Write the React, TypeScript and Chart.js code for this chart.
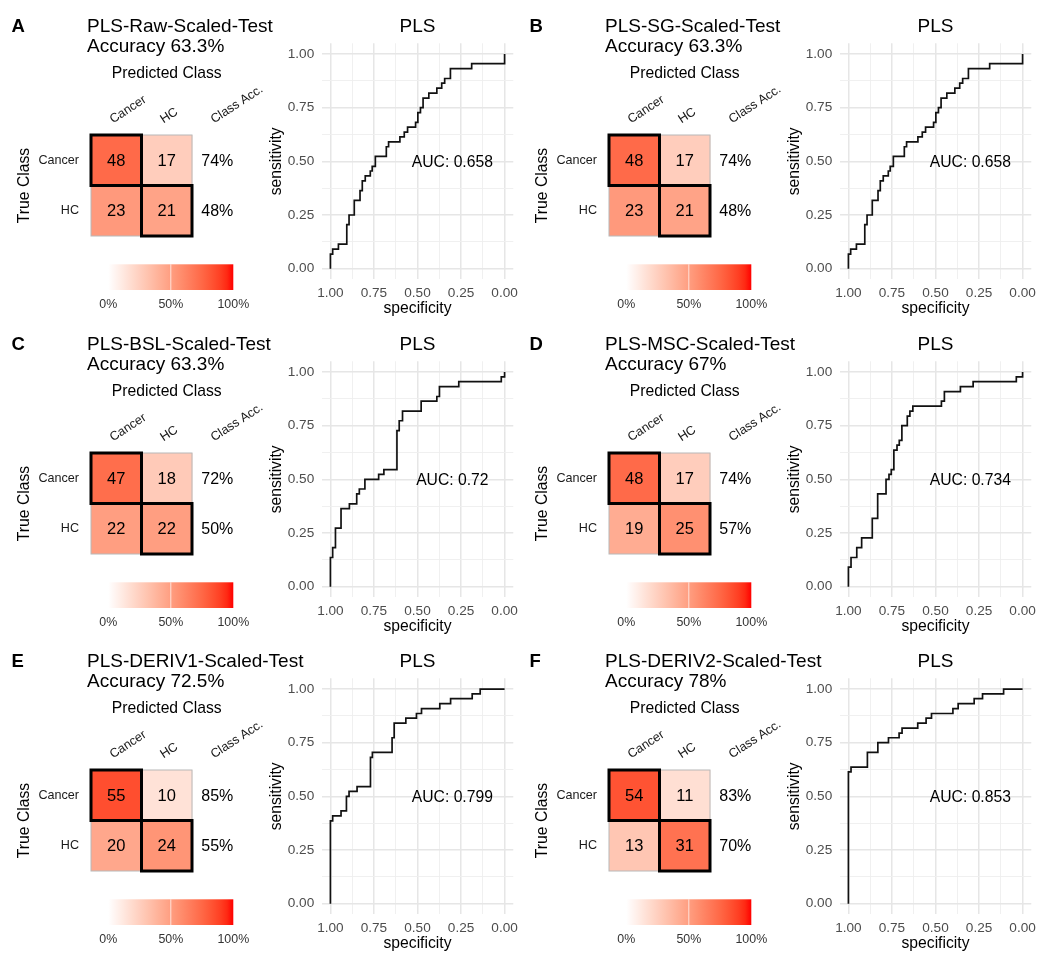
import React, { useEffect, useRef } from 'react';
import { Chart, registerables } from 'chart.js';

Chart.register(...registerables);

const FONT_FAMILY = "'Liberation Sans', Arial, Helvetica, sans-serif";
Chart.defaults.font.family = FONT_FAMILY;

// ===================== DATA =====================
const panelLetters = ['A', 'B', 'C', 'D', 'E', 'F'];
const panelTitles = [
  'PLS-Raw-Scaled-Test',
  'PLS-SG-Scaled-Test',
  'PLS-BSL-Scaled-Test',
  'PLS-MSC-Scaled-Test',
  'PLS-DERIV1-Scaled-Test',
  'PLS-DERIV2-Scaled-Test',
];
const classNames = ['Cancer', 'HC'];
const cmColumnLabels = ['Cancer', 'HC', 'Class Acc.'];
const cmAxisTitles = ['Predicted Class', 'True Class'];

// rows = true class (Cancer, HC); columns = predicted class (Cancer, HC)
const countsA = [[48, 17], [23, 21]];
const countsB = [[48, 17], [23, 21]];
const countsC = [[47, 18], [22, 22]];
const countsD = [[48, 17], [19, 25]];
const countsE = [[55, 10], [20, 24]];
const countsF = [[54, 11], [13, 31]];
const panelCounts = [countsA, countsB, countsC, countsD, countsE, countsF];

const aucValues = [0.658, 0.658, 0.72, 0.734, 0.799, 0.853];
const rocModelName = 'PLS';
const rocAxisTitles = ['specificity', 'sensitivity'];

// ROC step curves: at each specificity the sensitivity rises to the given level
const rocSpecA = [1.0, 0.987, 0.954, 0.906, 0.893, 0.863, 0.830, 0.817, 0.800, 0.771, 0.760, 0.742, 0.679, 0.666, 0.601, 0.576, 0.557, 0.511, 0.498, 0.483, 0.468, 0.435, 0.389, 0.361, 0.344, 0.311, 0.189, 0.0];
const rocSensA = [0.068, 0.091, 0.114, 0.205, 0.25, 0.318, 0.364, 0.409, 0.432, 0.455, 0.477, 0.523, 0.568, 0.591, 0.614, 0.636, 0.659, 0.682, 0.727, 0.75, 0.795, 0.818, 0.841, 0.864, 0.886, 0.932, 0.955, 1.0];
const rocSpecB = [1.0, 0.987, 0.954, 0.906, 0.893, 0.863, 0.830, 0.817, 0.800, 0.771, 0.760, 0.742, 0.679, 0.666, 0.601, 0.576, 0.557, 0.511, 0.498, 0.483, 0.468, 0.435, 0.389, 0.361, 0.344, 0.311, 0.189, 0.0];
const rocSensB = [0.068, 0.091, 0.114, 0.205, 0.25, 0.318, 0.364, 0.409, 0.432, 0.455, 0.477, 0.523, 0.568, 0.591, 0.614, 0.636, 0.659, 0.682, 0.727, 0.75, 0.795, 0.818, 0.841, 0.864, 0.886, 0.932, 0.955, 1.0];
const rocSpecC = [1.0, 0.987, 0.971, 0.939, 0.891, 0.849, 0.834, 0.802, 0.723, 0.693, 0.618, 0.605, 0.586, 0.479, 0.389, 0.374, 0.263, 0.019, 0.0];
const rocSensC = [0.136, 0.182, 0.273, 0.364, 0.386, 0.432, 0.455, 0.5, 0.523, 0.545, 0.727, 0.773, 0.818, 0.864, 0.886, 0.932, 0.955, 0.977, 1.0];
const rocSpecD = [1.0, 0.985, 0.952, 0.924, 0.863, 0.832, 0.784, 0.767, 0.754, 0.739, 0.721, 0.708, 0.693, 0.662, 0.647, 0.630, 0.466, 0.449, 0.357, 0.284, 0.036, 0.0];
const rocSensD = [0.091, 0.136, 0.182, 0.227, 0.318, 0.432, 0.5, 0.523, 0.545, 0.636, 0.659, 0.682, 0.75, 0.795, 0.818, 0.841, 0.864, 0.909, 0.932, 0.955, 0.977, 1.0];
const rocSpecE = [1.0, 0.987, 0.939, 0.908, 0.893, 0.847, 0.770, 0.759, 0.646, 0.634, 0.567, 0.506, 0.477, 0.372, 0.310, 0.186, 0.140, 0.0];
const rocSensE = [0.386, 0.409, 0.432, 0.5, 0.523, 0.545, 0.682, 0.705, 0.773, 0.841, 0.864, 0.886, 0.909, 0.932, 0.955, 0.977, 1.0, 1.0];
const rocSpecF = [1.0, 0.985, 0.891, 0.831, 0.770, 0.709, 0.692, 0.602, 0.554, 0.523, 0.400, 0.370, 0.278, 0.230, 0.109, 0.0];
const rocSensF = [0.614, 0.636, 0.705, 0.75, 0.773, 0.795, 0.818, 0.841, 0.864, 0.886, 0.909, 0.932, 0.955, 0.977, 1.0, 1.0];
const rocSpecs = [rocSpecA, rocSpecB, rocSpecC, rocSpecD, rocSpecE, rocSpecF];
const rocSenss = [rocSensA, rocSensB, rocSensC, rocSensD, rocSensE, rocSensF];

const rocMajorBreaks = [0, 0.25, 0.5, 0.75, 1];
const rocMinorBreaks = [0.125, 0.375, 0.625, 0.875];
const colorbarBreaks = [0, 0.5, 1];

// ===================== LAYOUT / STYLE =====================
const COL_X = [0, 518];
const ROW_Y = [0, 318, 635];
const CM_W = 320;
const CM_H = 317;
const CM_AREA_RIGHT = 242.5;
const ROC_W = 256;
const ROC_H = 310;

const TEXT = '#1a1a1a';
const TICK_GREY = '#4d4d4d';

function labToRgb(L: number, a: number, b: number) {
  const fy = (L + 16) / 116;
  const fx = fy + a / 500;
  const fz = fy - b / 200;
  const d = 6 / 29;
  const finv = (t: number) => (t > d ? t * t * t : 3 * d * d * (t - 4 / 29));
  const X = 0.95047 * finv(fx);
  const Y = 1.0 * finv(fy);
  const Z = 1.08883 * finv(fz);
  const rl = 3.2404542 * X - 1.5371385 * Y - 0.4985314 * Z;
  const gl = -0.969266 * X + 1.8760108 * Y + 0.041556 * Z;
  const bl = 0.0556434 * X - 0.2040259 * Y + 1.0572252 * Z;
  const gam = (c: number) => {
    const v = c <= 0.0031308 ? 12.92 * c : 1.055 * Math.pow(c, 1 / 2.4) - 0.055;
    return Math.round(255 * Math.min(1, Math.max(0, v)));
  };
  return `rgb(${gam(rl)},${gam(gl)},${gam(bl)})`;
}

// white -> red gradient interpolated in CIELAB (like ggplot2)
function fillColor(t: number) {
  const L = 100 + (53.2408 - 100) * t;
  return labToRgb(L, 80.0925 * t, 67.2032 * t);
}

function buildStairs(spec: number[], sens: number[]) {
  const pts: { x: number; y: number }[] = [{ x: spec[0], y: 0 }];
  spec.forEach((s, i) => {
    if (i > 0) pts.push({ x: s, y: sens[i - 1] });
    pts.push({ x: s, y: sens[i] });
  });
  return pts;
}

function makeCmConfig(idx: number): any {
  const counts = panelCounts[idx];
  const nRows = classNames.length;
  const rowTotals = counts.map((r) => r.reduce((a, b) => a + b, 0));
  const total = rowTotals.reduce((a, b) => a + b, 0);
  const correct = counts.reduce((a, r, i) => a + r[i], 0);
  const accText = String(Number(((100 * correct) / total).toFixed(1)));

  const datasets = counts.map((row, r) => ({
    label: classNames[r],
    data: row.map(() => [nRows - 1 - r, nRows - r]),
    backgroundColor: row.map((v) => fillColor(v / rowTotals[r])),
    borderWidth: 0,
    grouped: false,
    barPercentage: 1,
    categoryPercentage: 1,
  }));

  const plugin = {
    id: 'cmExtras',
    afterDatasetsDraw(chart: any) {
      const ctx = chart.ctx;
      const cells: any[] = [];
      chart.getSortedVisibleDatasetMetas().forEach((meta: any) => {
        const r = meta.index;
        meta.data.forEach((el: any, c: number) => {
          const p = el.getProps(['x', 'y', 'base', 'width'], true);
          cells.push({
            r,
            c,
            l: p.x - p.width / 2,
            w: p.width,
            t: Math.min(p.y, p.base),
            h: Math.abs(p.base - p.y),
            cx: p.x,
            cy: (p.y + p.base) / 2,
          });
        });
      });
      ctx.save();
      cells
        .filter((k) => k.r !== k.c)
        .forEach((k) => {
          ctx.strokeStyle = '#b8b8b8';
          ctx.lineWidth = 1;
          ctx.strokeRect(k.l, k.t, k.w, k.h);
        });
      cells
        .filter((k) => k.r === k.c)
        .forEach((k) => {
          ctx.strokeStyle = '#000';
          ctx.lineWidth = 3;
          ctx.strokeRect(k.l, k.t, k.w, k.h);
        });
      ctx.fillStyle = '#000';
      ctx.textAlign = 'center';
      ctx.textBaseline = 'middle';
      ctx.font = `16.5px ${FONT_FAMILY}`;
      cells.forEach((k) => ctx.fillText(String(counts[k.r][k.c]), k.cx, k.cy + 1));
      // class accuracy column
      const xs = chart.scales.x;
      const ys = chart.scales.y;
      ctx.font = `16px ${FONT_FAMILY}`;
      counts.forEach((row, r) => {
        const pct = Math.round((100 * row[r]) / rowTotals[r]);
        ctx.fillText(pct + '%', xs.getPixelForValue(cmColumnLabels.length - 1), ys.getPixelForValue(nRows - 1 - r + 0.5) + 1);
      });
      // colour bar legend
      const x0 = 108.3, x1 = 233.3, y0 = 264.3, y1 = 290;
      const grad = ctx.createLinearGradient(x0, 0, x1, 0);
      for (let i = 0; i <= 20; i++) grad.addColorStop(i / 20, fillColor(i / 20));
      ctx.fillStyle = grad;
      ctx.fillRect(x0, y0, x1 - x0, y1 - y0);
      ctx.strokeStyle = 'rgba(255,255,255,0.7)';
      ctx.lineWidth = 1;
      colorbarBreaks.forEach((b) => {
        if (b > 0 && b < 1) {
          const xx = x0 + b * (x1 - x0);
          ctx.beginPath();
          ctx.moveTo(xx, y0);
          ctx.lineTo(xx, y1);
          ctx.stroke();
        }
      });
      ctx.fillStyle = '#333';
      ctx.font = `12.4px ${FONT_FAMILY}`;
      colorbarBreaks.forEach((b) => {
        ctx.fillText(Math.round(b * 100) + '%', x0 + b * (x1 - x0), 304.3);
      });
      ctx.restore();
    },
    afterDraw(chart: any) {
      const ctx = chart.ctx;
      ctx.save();
      ctx.fillStyle = '#000';
      ctx.textAlign = 'left';
      ctx.textBaseline = 'alphabetic';
      ctx.font = `bold 18.5px ${FONT_FAMILY}`;
      ctx.fillText(panelLetters[idx], 11.5, 31.7);
      ctx.font = `19px ${FONT_FAMILY}`;
      ctx.fillText(panelTitles[idx], 87, 32);
      ctx.fillText(`Accuracy ${accText}%`, 87, 51.7);
      ctx.restore();
    },
  };

  return {
    type: 'bar',
    data: { labels: cmColumnLabels, datasets },
    options: {
      animation: false,
      responsive: false,
      maintainAspectRatio: false,
      events: [],
      layout: { padding: { left: 0, top: 0, right: CM_W - CM_AREA_RIGHT, bottom: CM_H - 236 } },
      plugins: { legend: { display: false }, tooltip: { enabled: false }, title: { display: false } },
      scales: {
        x: {
          type: 'category',
          position: 'top',
          offset: true,
          grid: { display: false, drawTicks: false },
          border: { display: false },
          ticks: {
            autoSkip: false,
            minRotation: 33,
            maxRotation: 33,
            padding: 8,
            labelOffset: 3,
            color: TEXT,
            font: { size: 12.6 },
          },
          title: {
            display: true,
            text: cmAxisTitles[0],
            color: '#000',
            font: { size: 15.7 },
            padding: { top: 64.5, bottom: 0 },
          },
          afterFit: (s: any) => {
            s.height = 135;
            s.paddingLeft = 0;
            s.paddingRight = 0;
          },
        },
        y: {
          type: 'linear',
          min: 0,
          max: nRows,
          afterBuildTicks: (s: any) => {
            s.ticks = classNames.map((_, r) => ({ value: nRows - 1 - r + 0.5 }));
          },
          grid: { display: false, drawTicks: false },
          border: { display: false },
          ticks: {
            padding: 12,
            color: TEXT,
            font: { size: 12.6 },
            callback: (v: number) => classNames[nRows - 1 - Math.floor(v)],
          },
          title: {
            display: true,
            text: cmAxisTitles[1],
            color: '#000',
            font: { size: 15.7 },
            padding: { top: 15, bottom: 0 },
          },
          afterFit: (s: any) => {
            s.width = 91;
          },
        },
      },
    },
    plugins: [plugin],
  };
}

function makeRocConfig(idx: number): any {
  const data = buildStairs(rocSpecs[idx], rocSenss[idx]);
  const allBreaks = [...rocMajorBreaks, ...rocMinorBreaks].sort((a, b) => a - b);
  const isMajor = (v: number) => rocMajorBreaks.some((m) => Math.abs(m - v) < 1e-9);
  const plugin = {
    id: 'rocExtras',
    afterDraw(chart: any) {
      const ctx = chart.ctx;
      const area = chart.chartArea;
      const xs = chart.scales.x;
      const ys = chart.scales.y;
      ctx.save();
      ctx.fillStyle = '#000';
      ctx.textAlign = 'center';
      ctx.textBaseline = 'alphabetic';
      ctx.font = `19px ${FONT_FAMILY}`;
      ctx.fillText(rocModelName, (area.left + area.right) / 2, 22);
      ctx.textBaseline = 'middle';
      ctx.font = `15.7px ${FONT_FAMILY}`;
      ctx.fillText(`AUC: ${aucValues[idx]}`, xs.getPixelForValue(0.3), ys.getPixelForValue(0.5) + 1);
      ctx.restore();
    },
  };
  const axisCommon = (title: string) => ({
    type: 'linear',
    min: -0.05,
    max: 1.05,
    afterBuildTicks: (s: any) => {
      s.ticks = allBreaks.map((v) => ({ value: v }));
    },
    grid: {
      color: (c: any) => (c.tick && isMajor(c.tick.value) ? '#e6e6e6' : '#eeeeee'),
      lineWidth: (c: any) => (c.tick && isMajor(c.tick.value) ? 1.5 : 0.9),
      drawTicks: false,
    },
    border: { display: false },
    ticks: {
      autoSkip: false,
      maxRotation: 0,
      minRotation: 0,
      color: TICK_GREY,
      font: { size: 13.6 },
      callback: (v: number) => (isMajor(v) ? v.toFixed(2) : ''),
    },
    title: { display: true, text: title, color: '#000', font: { size: 15.7 } },
  });
  const xAxis: any = axisCommon(rocAxisTitles[0]);
  xAxis.reverse = true;
  xAxis.ticks.padding = 5.5;
  xAxis.title.padding = { top: 0, bottom: 1.5 };
  xAxis.afterFit = (s: any) => {
    s.height = ROC_H - 269.4;
    s.paddingLeft = 0;
    s.paddingRight = 0;
  };
  const yAxis: any = axisCommon(rocAxisTitles[1]);
  yAxis.ticks.padding = 7.5;
  yAxis.title.padding = { top: 5.5, bottom: 0 };
  yAxis.afterFit = (s: any) => {
    s.width = 59.7;
  };
  return {
    type: 'line',
    data: {
      datasets: [
        {
          data,
          borderColor: '#111',
          borderWidth: 1.7,
          pointRadius: 0,
          fill: false,
          tension: 0,
        },
      ],
    },
    options: {
      animation: false,
      responsive: false,
      maintainAspectRatio: false,
      events: [],
      layout: { padding: { left: 0, top: 33.3, right: ROC_W - 251.3, bottom: 0 } },
      plugins: { legend: { display: false }, tooltip: { enabled: false }, title: { display: false } },
      scales: { x: xAxis, y: yAxis },
    },
    plugins: [plugin],
  };
}

function ChartCanvas({ config, left, top, width, height }: any) {
  const ref = useRef<HTMLCanvasElement | null>(null);
  useEffect(() => {
    if (!ref.current) return;
    const chart = new Chart(ref.current, config());
    return () => chart.destroy();
  }, []);
  return (
    <canvas
      ref={ref}
      width={width}
      height={height}
      style={{ position: 'absolute', left, top, width, height, display: 'block' }}
    />
  );
}

export default function App() {
  return (
    <div
      style={{
        position: 'absolute',
        left: 0,
        top: 0,
        width: 1037,
        height: 953,
        background: '#ffffff',
        overflow: 'hidden',
      }}
    >
      {panelLetters.map((_, i) => {
        const left = COL_X[i % 2];
        const top = ROW_Y[Math.floor(i / 2)];
        return (
          <React.Fragment key={i}>
            <ChartCanvas config={() => makeCmConfig(i)} left={left} top={top} width={CM_W} height={CM_H} />
            <ChartCanvas config={() => makeRocConfig(i)} left={left + 262} top={top + 10} width={ROC_W} height={ROC_H} />
          </React.Fragment>
        );
      })}
    </div>
  );
}
